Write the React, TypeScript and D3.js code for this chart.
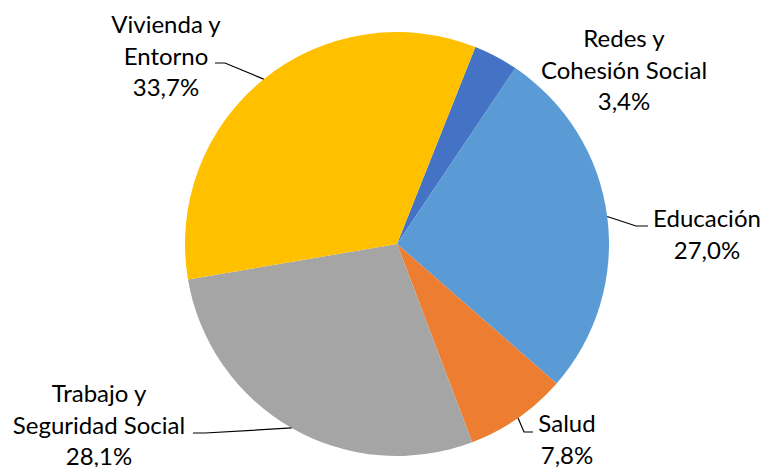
import React from "react";
import * as d3 from "d3";

const categories = ["Redes y Cohesión Social", "Educación", "Salud", "Trabajo y Seguridad Social", "Vivienda y Entorno"];
const values = [3.4, 27.0, 7.8, 28.1, 33.7];
const labelLines = [
  ["Redes y", "Cohesión Social", "3,4%"],
  ["Educación", "27,0%"],
  ["Salud", "7,8%"],
  ["Trabajo y", "Seguridad Social", "28,1%"],
  ["Vivienda y", "Entorno", "33,7%"],
];
const colors = ["#4472C4", "#5B9BD5", "#ED7D31", "#A5A5A5", "#FFC000"];

// layout
const W = 767, H = 467;
const cx = 397, cy = 244, R = 212;
const startDeg = 21.7;
const labelLayout = [
  { x: 624, y: 47, anchor: "middle", leader: null },
  { x: 707, y: 227, anchor: "middle", leader: { elbow: [636, 226], end: [648, 226] } },
  { x: 567, y: 432, anchor: "middle", leader: { elbow: [524, 432], end: [533, 432] } },
  { x: 99, y: 402, anchor: "middle", leader: { elbow: [205, 433], end: [193, 433] } },
  { x: 166, y: 33, anchor: "middle", leader: { elbow: [225, 63], end: [215, 63] } },
];
const lineH = 31.5;

export default function App() {
  const start = (startDeg * Math.PI) / 180;
  const pie = d3.pie<number>().sort(null).value((d) => d).startAngle(start).endAngle(start + 2 * Math.PI);
  const arcs = pie(values);
  const arc = d3.arc<d3.PieArcDatum<number>>().innerRadius(0).outerRadius(R);
  return (
    <svg width={W} height={H} style={{ position: "absolute", left: 0, top: 0, display: "block", background: "#fff" }}
      fontFamily="Lato, 'Open Sans', sans-serif">
      <g transform={`translate(${cx},${cy})`}>
        {arcs.map((a, i) => (
          <path key={categories[i]} d={arc(a) || ""} fill={colors[i]} />
        ))}
      </g>
      {arcs.map((a, i) => {
        const L = labelLayout[i];
        const mid = (a.startAngle + a.endAngle) / 2;
        const px = cx + R * Math.sin(mid);
        const py = cy - R * Math.cos(mid);
        return (
          <g key={"l" + i}>
            {L.leader && (
              <polyline
                points={`${px},${py} ${L.leader.elbow[0]},${L.leader.elbow[1]} ${L.leader.end[0]},${L.leader.end[1]}`}
                fill="none" stroke="#000" strokeWidth={1.2} />
            )}
            <text x={L.x} y={L.y} textAnchor={L.anchor as any} fontSize={24} fill="#000">
              {labelLines[i].map((t, j) => (
                <tspan key={j} x={L.x} y={L.y + j * lineH}>{t}</tspan>
              ))}
            </text>
          </g>
        );
      })}
    </svg>
  );
}
